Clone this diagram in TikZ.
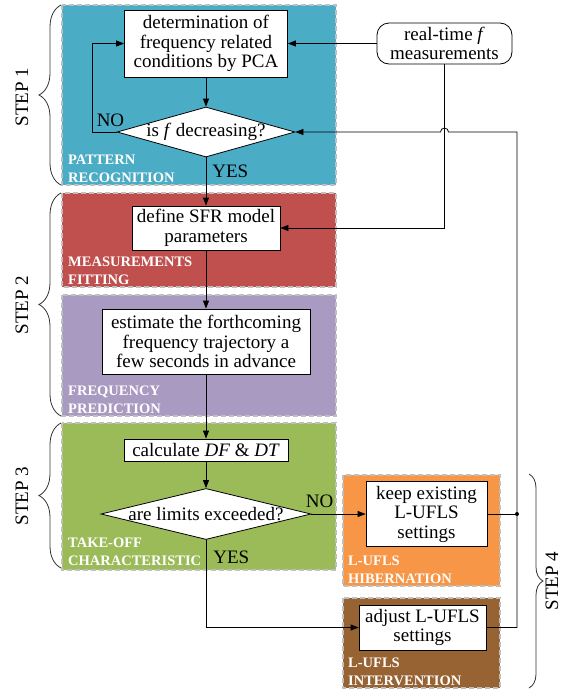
\documentclass[tikz,border=0pt]{standalone}
\usepackage{fontspec}
\setmainfont{Liberation Serif}
\usetikzlibrary{shapes.geometric,arrows.meta,decorations.pathreplacing,calc}

\definecolor{prblue}{RGB}{75,172,198}
\definecolor{mfred}{RGB}{192,80,77}
\definecolor{fppurple}{RGB}{168,154,192}
\definecolor{tcgreen}{RGB}{155,187,89}
\definecolor{hborange}{RGB}{247,150,70}
\definecolor{inbrown}{RGB}{152,99,51}

\tikzset{
	panel/.style={draw=black!25, dash pattern=on 5pt off 3pt, line width=1.2pt},
	paneltext/.style={anchor=south west, align=left, text=white, inner sep=0pt,
		font=\fontsize{14.5}{18}\selectfont\bfseries},
	process/.style={draw, fill=white, align=center, inner sep=2pt, line width=0.8pt},
	decision/.style={draw, diamond, fill=white, inner sep=0pt, line width=0.8pt},
	terminal/.style={draw, rounded corners=12pt, fill=white, align=center, inner sep=2pt, line width=0.8pt},
	steplabel/.style={rotate=90, font=\fontsize{19}{20}\selectfont},
	stepbrace/.style={decorate, decoration={brace, amplitude=22pt}, draw=black!80, line width=0.8pt},
	link/.style={-{Triangle[length=8pt,width=6pt]}, line width=0.8pt}
}

\begin{document}
\begin{tikzpicture}[x=1pt, y=-1pt, font=\fontsize{19}{19.5}\selectfont]
	\useasboundingbox (0,0) rectangle (562,691);

	% coloured stages
	\path[panel, fill=prblue] (62,5) rectangle (336,185);
	\node[paneltext] (prtext) at (68,183) {PATTERN\\RECOGNITION};
	\path[panel, fill=mfred] (62,193) rectangle (336,287);
	\node[paneltext] (mftext) at (68,285) {MEASUREMENTS\\FITTING};
	\path[panel, fill=fppurple] (62,295) rectangle (336,416);
	\node[paneltext] (fptext) at (68,414) {FREQUENCY\\PREDICTION};
	\path[panel, fill=tcgreen] (62,423) rectangle (336,570);
	\node[paneltext] (tctext) at (68,566) {TAKE-OFF\\CHARACTERISTIC};
	\path[panel, fill=hborange] (343,475) rectangle (500,586);
	\node[paneltext] (hbtext) at (348,584) {L-UFLS\\HIBERNATION};
	\path[panel, fill=inbrown] (343,598) rectangle (500,688);
	\node[paneltext] (intext) at (348,686) {L-UFLS\\INTERVENTION};

	% steps
	\draw[stepbrace] (61,185) -- (61,5);
	\draw[stepbrace] (61,416) -- (61,193);
	\draw[stepbrace] (61,568) -- (61,423);
	\draw[stepbrace, decoration={amplitude=14pt}] (529,474) -- (529,688);
	\node[steplabel] (step1) at (22,97) {STEP 1};
	\node[steplabel] (step2) at (22,305) {STEP 2};
	\node[steplabel] (step3) at (22,496) {STEP 3};
	\node[steplabel] (step4) at (552,581) {STEP 4};

	% flow
	\node[process, minimum width=163pt, minimum height=67pt] (pca) at (206,43.5)
		{determination of\\frequency related\\conditions by PCA};
	\node[terminal, minimum width=135pt, minimum height=41pt] (meas) at (444.5,43.5)
		{real-time \textit{f}\\measurements};
	\node[decision, minimum width=178pt, minimum height=50pt] (dec) at (206,132)
		{\makebox[0pt]{is \textit{f} decreasing?}};
	\node[process, minimum width=148pt, minimum height=44pt] (sfr) at (206,228)
		{define SFR model\\parameters};
	\node[process, minimum width=208pt, minimum height=65pt] (est) at (206,341.5)
		{estimate the forthcoming\\frequency trajectory a\\few seconds in advance};
	\node[process, minimum width=164pt, minimum height=22pt, inner sep=1pt] (calc) at (206,450)
		{calculate \textit{DF} \& \textit{DT}};
	\node[decision, minimum width=210pt, minimum height=51pt] (lim) at (206,514)
		{\makebox[0pt]{are limits exceeded?}};
	\node[process, minimum width=121pt, minimum height=65pt] (keep) at (426.5,514)
		{keep existing\\L-UFLS\\settings};
	\node[process, minimum width=127pt, minimum height=45pt] (adj) at (422.5,627.5)
		{adjust L-UFLS\\settings};

	\coordinate (noloop) at (92,132);
	\coordinate (ret) at (517,132);
	\coordinate (bus) at (517,514);
	\coordinate (hop) at (meas.south |- ret);

	\draw[link] (meas) -- (pca);
	\draw[link] (pca) -- (dec);
	\draw[link] (dec.west) node[anchor=south east, inner sep=0pt, xshift=8pt, yshift=5pt] (no1) {NO}
		-- (noloop) |- (pca.west);
	\draw[link] (dec) -- node[pos=0.41, anchor=base west, inner sep=0pt, xshift=6pt] (yes1) {YES} (sfr);
	\draw[link] (meas) |- (sfr);
	\draw[link] (sfr) -- (est);
	\draw[link] (est) -- (calc);
	\draw[link] (calc) -- (lim);
	\draw[link] (lim.east) node[anchor=south west, inner sep=0pt, xshift=-6pt, yshift=6pt] (no2) {NO}
		-- (keep);
	\draw[link] (lim) |- node[pos=0.134, anchor=base west, inner sep=0pt, xshift=7pt] (yes2) {YES} (adj);
	\draw[line width=0.8pt] (keep) -- (bus);
	\fill (bus) circle (2pt);
	\draw[link] (adj) -| (bus) -- (ret) -- ($(hop)+(4,0)$)
		arc[start angle=0, end angle=180, radius=4pt] -- (dec);
\end{tikzpicture}
\end{document}
